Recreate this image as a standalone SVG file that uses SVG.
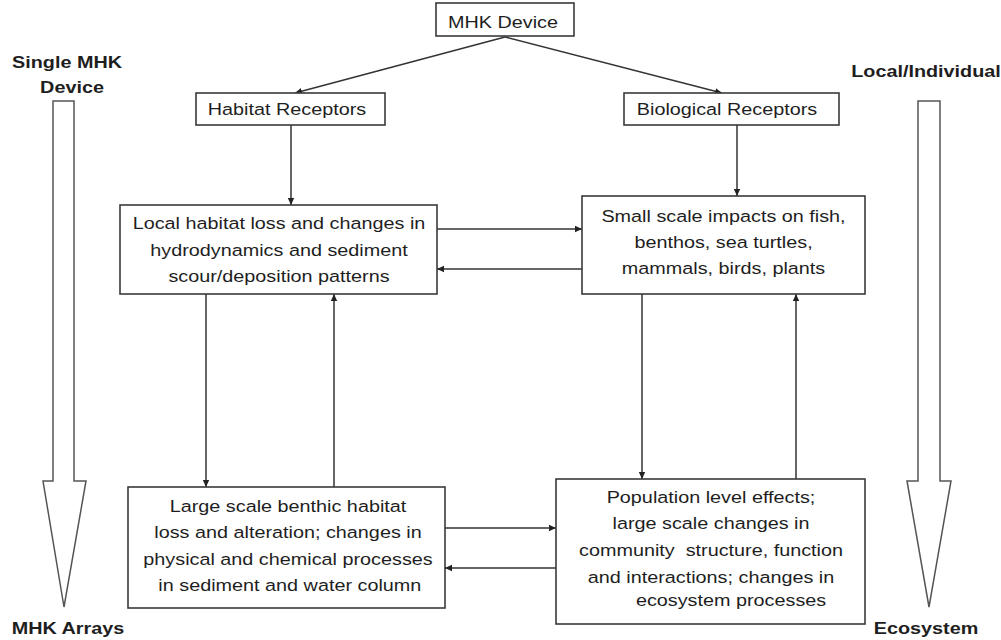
<svg xmlns="http://www.w3.org/2000/svg" width="1001" height="640" viewBox="0 0 1001 640">
<defs>
<style>
.box{fill:#fff;stroke:#3a3a3a;stroke-width:1.6}
.t{font-family:"Liberation Sans",Arial,sans-serif;font-size:16.5px;fill:#1e1e1e;text-anchor:middle}
.b{font-family:"Liberation Sans",Arial,sans-serif;font-size:16.5px;font-weight:bold;fill:#1e1e1e;text-anchor:middle}
.c{fill:none;stroke:#333;stroke-width:1.5}
.big{fill:#fff;stroke:#555;stroke-width:1.5}
</style>
<marker id="ah" markerWidth="8" markerHeight="8" refX="7" refY="4" orient="auto" markerUnits="userSpaceOnUse">
<path d="M0,0.8 L7,4 L0,7.2 Z" fill="#222"/>
</marker>
</defs>
<rect width="1001" height="640" fill="#fff"/>

<g id="scale-left">
<polygon class="big" points="53,101 74,101 74,481 86,481 64,607 43,481 53,481"/>
<text class="b" transform="translate(67,68) scale(1.2,1)">Single MHK</text>
<text class="b" transform="translate(72,93) scale(1.2,1)">Device</text>
<text class="b" transform="translate(68,634) scale(1.2,1)">MHK Arrays</text>
</g>

<g id="scale-right">
<polygon class="big" points="918,101 940,101 940,481 951,481 929,607 907,481 918,481"/>
<text class="b" transform="translate(926,77) scale(1.2,1)">Local/Individual</text>
<text class="b" transform="translate(926,634) scale(1.2,1)">Ecosystem</text>
</g>

<g id="connectors">
<line class="c" x1="505" y1="37" x2="295" y2="93" marker-end="url(#ah)"/>
<line class="c" x1="505" y1="37" x2="722" y2="93" marker-end="url(#ah)"/>
<line class="c" x1="291" y1="125" x2="291" y2="205" marker-end="url(#ah)"/>
<line class="c" x1="737" y1="125" x2="737" y2="196" marker-end="url(#ah)"/>
<line class="c" x1="437" y1="229" x2="582" y2="229" marker-end="url(#ah)"/>
<line class="c" x1="582" y1="269" x2="437" y2="269" marker-end="url(#ah)"/>
<line class="c" x1="206" y1="294" x2="206" y2="487" marker-end="url(#ah)"/>
<line class="c" x1="334" y1="487" x2="334" y2="294" marker-end="url(#ah)"/>
<line class="c" x1="642" y1="294" x2="642" y2="479" marker-end="url(#ah)"/>
<line class="c" x1="796" y1="479" x2="796" y2="294" marker-end="url(#ah)"/>
<line class="c" x1="445" y1="528" x2="556" y2="528" marker-end="url(#ah)"/>
<line class="c" x1="556" y1="568" x2="445" y2="568" marker-end="url(#ah)"/>
</g>

<g id="mhk-device">
<rect class="box" x="436" y="3" width="138" height="33"/>
<text class="t" transform="translate(503,28) scale(1.2,1)">MHK Device</text>
</g>

<g id="habitat-receptors">
<rect class="box" x="196" y="93" width="189" height="32"/>
<text class="t" transform="translate(287,115) scale(1.2,1)">Habitat Receptors</text>
</g>

<g id="biological-receptors">
<rect class="box" x="624" y="93" width="215" height="32"/>
<text class="t" transform="translate(727,115) scale(1.2,1)">Biological Receptors</text>
</g>

<g id="local-habitat">
<rect class="box" x="120" y="205" width="317" height="89"/>
<text class="t" transform="translate(279,229) scale(1.2,1)"><tspan x="0" y="0">Local habitat loss and changes in</tspan><tspan x="0" y="26.7">hydrodynamics and sediment</tspan><tspan x="0" y="53.4">scour/deposition patterns</tspan></text>
</g>

<g id="small-scale">
<rect class="box" x="582" y="196" width="283" height="98"/>
<text class="t" transform="translate(723.5,222) scale(1.2,1)"><tspan x="0" y="0">Small scale impacts on fish,</tspan><tspan x="0" y="26">benthos, sea turtles,</tspan><tspan x="0" y="52">mammals, birds, plants</tspan></text>
</g>

<g id="large-scale">
<rect class="box" x="128" y="487" width="317" height="121"/>
<text class="t" transform="translate(288,512) scale(1.2,1)"><tspan x="0" y="0">Large scale benthic habitat</tspan><tspan x="0" y="26.3">loss and alteration; changes in</tspan><tspan x="0" y="52.6">physical and chemical processes</tspan><tspan x="1.5" y="79">in sediment and water column</tspan></text>
</g>

<g id="population">
<rect class="box" x="556" y="479" width="309" height="145"/>
<text class="t" transform="translate(711,503) scale(1.2,1)" xml:space="preserve"><tspan x="0" y="0">Population level effects;</tspan><tspan x="0" y="26">large scale changes in</tspan><tspan x="0" y="53">community  structure, function</tspan><tspan x="0" y="80">and interactions; changes in</tspan><tspan x="16.7" y="103">ecosystem processes</tspan></text>
</g>
</svg>
